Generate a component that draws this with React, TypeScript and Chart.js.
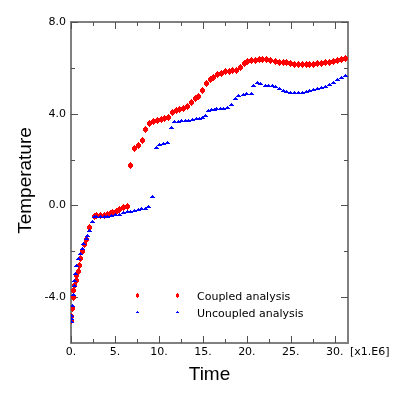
import React, { useEffect, useRef } from "react";
import { Chart, registerables } from "chart.js";

Chart.register(...registerables);

// ---- data (time in units of 1e6, temperature) ----
const coupledTime = [
  0.06, 0.11, 0.17, 0.23, 0.34, 0.45, 0.57, 0.68, 0.8, 0.95, 1.1, 1.36, 1.55, 1.77, 2.08,
  2.65, 2.95, 3.33, 3.78, 4.13, 4.47, 4.77, 5.15, 5.57, 6.02, 6.4,
  6.77, 7.23, 7.68, 8.14, 8.48, 8.93, 9.39, 9.84, 10.3, 10.6, 11.1, 11.5, 12.0, 12.3, 12.8,
  13.25, 13.7, 14.16, 14.5, 14.95, 15.4, 15.86, 16.2, 16.66, 17.1, 17.57, 18.0, 18.36, 18.8,
  19.27, 19.7, 20.07, 20.5, 20.98, 21.4, 21.8, 22.2, 22.7, 23.2, 23.7, 24.15, 24.5, 25.0,
  25.45, 25.9, 26.36, 26.8, 27.16, 27.6, 28.07, 28.5, 28.98, 29.4, 29.9, 30.3, 30.8, 31.25,
];
const coupledTemp = [
  -5.03, -4.86, -4.48, -4.0, -3.7, -3.48, -3.29, -3.04, -2.9, -2.6, -2.3, -1.99, -1.7, -1.48, -0.96,
  -0.47, -0.44, -0.44, -0.42, -0.39, -0.35, -0.31, -0.25, -0.17, -0.09, -0.03,
  1.73, 2.49, 2.63, 2.83, 3.31, 3.59, 3.66, 3.72, 3.75, 3.79, 3.84, 4.06, 4.14, 4.19, 4.23,
  4.32, 4.49, 4.67, 4.76, 5.02, 5.33, 5.51, 5.6, 5.69, 5.77, 5.83, 5.86, 5.89, 5.89,
  6.0, 6.18, 6.28, 6.33, 6.34, 6.38, 6.38, 6.35, 6.32, 6.28, 6.24, 6.24, 6.24, 6.2,
  6.16, 6.16, 6.15, 6.15, 6.15, 6.16, 6.18, 6.2, 6.24, 6.24, 6.28, 6.31, 6.35, 6.41,
];

const uncoupledTime = [
  0.04, 0.07, 0.1, 0.15, 0.25, 0.35, 0.45, 0.52, 0.68, 0.86, 1.03, 1.28, 1.47, 1.73, 1.93, 2.11,
  2.46, 2.65, 2.95, 3.33, 3.78, 4.13, 4.58, 5.03, 5.48, 5.94, 6.4, 6.82, 7.23, 7.68, 8.07, 8.48,
  8.82, 9.27,
  9.73, 10.07, 10.5, 10.98, 11.43, 11.77, 12.2, 12.6, 13.0, 13.4, 13.8, 14.27, 14.6, 14.9, 15.26,
  15.6, 15.94, 16.3, 16.6, 17.0, 17.35, 17.76, 18.2, 18.67, 19.1, 19.58, 20.0, 20.47, 20.8,
  21.17, 21.6, 22.08, 22.5, 22.9, 23.3, 23.75, 24.2, 24.55, 25.0, 25.45, 25.9, 26.36, 26.8,
  27.16, 27.6, 28.07, 28.5, 28.98, 29.4, 29.9, 30.3, 30.8, 31.25,
];
const uncoupledTemp = [
  -5.05, -4.93, -4.8, -4.35, -3.9, -3.5, -3.26, -2.97, -2.6, -2.31, -2.1, -1.88, -1.66, -1.44, -1.3, -1.08,
  -0.71, -0.5, -0.5, -0.48, -0.48, -0.47, -0.44, -0.41, -0.38, -0.32, -0.28, -0.26, -0.2, -0.17, -0.15, -0.12,
  -0.06, 0.39,
  2.51, 2.64, 2.7, 2.76, 3.39, 3.64, 3.68, 3.69, 3.7, 3.72, 3.75, 3.78, 3.8, 3.85, 3.93,
  4.14, 4.19, 4.19, 4.21, 4.22, 4.23, 4.28, 4.39, 4.67, 4.78, 4.84, 4.89, 4.89, 5.24,
  5.35, 5.31, 5.24, 5.24, 5.24, 5.2, 5.1, 5.02, 4.96, 4.93, 4.93, 4.93, 4.93, 4.96,
  5.0, 5.04, 5.1, 5.15, 5.2, 5.28, 5.38, 5.48, 5.57, 5.65,
];

const xMajorTicks = [0, 5, 10, 15, 20, 25, 30];
const xTickLabels = ["0.", "5.", "10.", "15.", "20.", "25.", "30."];
const xMinorTicks = [2.5, 7.5, 12.5, 17.5, 22.5, 27.5];
const yMajorTicks = [-4, 0, 4, 8];
const yTickLabels = ["-4.0", "0.0", "4.0", "8.0"];
const yMinorTicks = [-2, 2, 6];
const seriesNames = ["Coupled analysis", "Uncoupled analysis"];
const xUnitLabel = "[x1.E6]";
const xTitle = "Time";
const yTitle = "Temperature";

function makeMarker(rows: string[], color: string): HTMLCanvasElement {
  const c = document.createElement("canvas");
  c.width = rows[0].length;
  c.height = rows.length;
  const g = c.getContext("2d")!;
  g.fillStyle = color;
  rows.forEach((r, y) => {
    for (let x = 0; x < r.length; x++) if (r[x] === "X") g.fillRect(x, y, 1, 1);
  });
  return c;
}

export default function App() {
  const ref = useRef<HTMLCanvasElement | null>(null);

  useEffect(() => {
    const red = makeMarker(["..X..", ".XXX.", "XXXXX", "XXXXX", "XXXXX", ".XXX.", "..X.."], "#ff0000");
    const blue = makeMarker(["..X..", ".XXX.", "XXXXX"], "#0000ff");
    const redSmall = makeMarker([".X.", "XXX", "XXX", "XXX", ".X."], "#ff0000");
    const blueSmall = makeMarker([".X.", "XXX"], "#0000ff");

    const framePlugin = {
      id: "frame",
      beforeDatasetsDraw(chart: any) {
        const ctx = chart.ctx;
        const { left, right, top, bottom } = chart.chartArea;
        const xs = chart.scales.x;
        const ys = chart.scales.y;
        ctx.save();
        ctx.strokeStyle = "#808080";
        ctx.lineWidth = 2;
        ctx.strokeRect(left, top, right - left, bottom - top);
        ctx.strokeStyle = "#505050";
        ctx.lineWidth = 1;
        const vt = (v: number, len: number) => {
          const px = Math.round(xs.getPixelForValue(v)) + 0.5;
          ctx.beginPath();
          ctx.moveTo(px, bottom);
          ctx.lineTo(px, bottom - len);
          ctx.moveTo(px, top);
          ctx.lineTo(px, top + len);
          ctx.stroke();
        };
        const ht = (v: number, len: number) => {
          const py = Math.round(ys.getPixelForValue(v)) + 0.5;
          ctx.beginPath();
          ctx.moveTo(left, py);
          ctx.lineTo(left + len, py);
          ctx.moveTo(right, py);
          ctx.lineTo(right - len, py);
          ctx.stroke();
        };
        xMajorTicks.forEach((v) => vt(v, 7));
        xMinorTicks.forEach((v) => vt(v, 4));
        yMajorTicks.forEach((v) => ht(v, 7));
        yMinorTicks.forEach((v) => ht(v, 4));

        ctx.fillStyle = "#000";
        ctx.font = "11px 'DejaVu Sans'";
        ctx.textAlign = "center";
        ctx.textBaseline = "alphabetic";
        xMajorTicks.forEach((v, i) => {
          ctx.fillText(xTickLabels[i], xs.getPixelForValue(v), bottom + 12);
        });
        ctx.textAlign = "left";
        ctx.fillText(xUnitLabel, right + 2, bottom + 12);
        ctx.textAlign = "right";
        ctx.textBaseline = "middle";
        yMajorTicks.forEach((v, i) => {
          ctx.fillText(yTickLabels[i], left - 5, ys.getPixelForValue(v));
        });

        ctx.font = "19px 'Liberation Sans'";
        ctx.textAlign = "center";
        ctx.textBaseline = "alphabetic";
        ctx.fillText(xTitle, (left + right) / 2, 380);
        ctx.save();
        ctx.translate(26, (top + bottom) / 2 - 2);
        ctx.rotate(-Math.PI / 2);
        ctx.textBaseline = "middle";
        ctx.fillText(yTitle, 0, 0);
        ctx.restore();
        ctx.restore();
        ctx.imageSmoothingEnabled = false;
      },
      afterDatasetsDraw(chart: any) {
        const ctx = chart.ctx;
        ctx.save();
        ctx.imageSmoothingEnabled = false;
        ctx.drawImage(redSmall, 136, 293);
        ctx.drawImage(redSmall, 176, 293);
        ctx.drawImage(blueSmall, 136, 311);
        ctx.drawImage(blueSmall, 176, 311);
        ctx.fillStyle = "#000";
        ctx.font = "11px 'DejaVu Sans'";
        ctx.textAlign = "left";
        ctx.textBaseline = "alphabetic";
        ctx.fillText(seriesNames[0], 197, 300);
        ctx.fillText(seriesNames[1], 197, 317);
        ctx.restore();
      },
    };

    const chart = new Chart(ref.current!, {
      type: "scatter",
      data: {
        datasets: [
          {
            label: seriesNames[0],
            data: coupledTime.map((t, i) => ({ x: t, y: coupledTemp[i] })),
            pointStyle: red as any,
            backgroundColor: "#ff0000",
            borderColor: "#ff0000",
            order: 2,
          },
          {
            label: seriesNames[1],
            data: uncoupledTime.map((t, i) => ({ x: t, y: uncoupledTemp[i] })),
            pointStyle: blue as any,
            backgroundColor: "#0000ff",
            borderColor: "#0000ff",
            order: 1,
          },
        ],
      },
      options: {
        animation: false,
        responsive: false,
        devicePixelRatio: 1,
        layout: { padding: { left: 71, top: 22, right: 69, bottom: 55 } },
        plugins: { legend: { display: false }, tooltip: { enabled: false } },
        scales: {
          x: { type: "linear", min: 0, max: 31.5, display: false },
          y: { type: "linear", min: -6, max: 8, display: false },
        },
      },
      plugins: [framePlugin],
    });
    return () => chart.destroy();
  }, []);

  return (
    <div style={{ position: "fixed", left: 0, top: 0, width: 417, height: 398, background: "#fff" }}>
      <canvas ref={ref} width={417} height={398} style={{ display: "block" }} />
    </div>
  );
}
